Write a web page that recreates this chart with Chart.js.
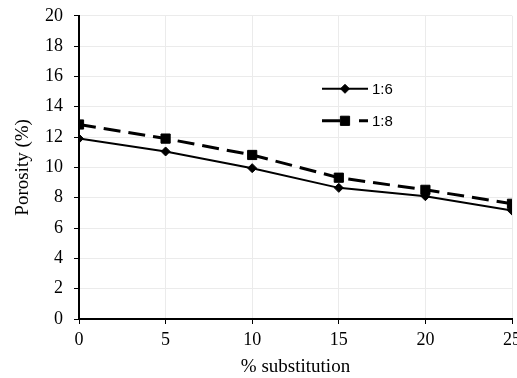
<!DOCTYPE html>
<html>
<head>
<meta charset="utf-8">
<script src="https://cdn.jsdelivr.net/npm/chart.js@4"></script>
<style>
  html, body { margin: 0; padding: 0; background: #fff; overflow: hidden; }
  #wrap { width: 526px; height: 384px; margin-top: -6px; }
</style>
</head>
<body>
<div id="wrap"><canvas id="porosityChart"></canvas></div>
<script>
// data
const substitution = [0, 5, 10, 15, 20, 25];
const ratio16 = [11.9, 11.05, 9.95, 8.65, 8.1, 7.15];
const ratio18 = [12.83, 11.9, 10.82, 9.32, 8.52, 7.6];
const seriesLabels = ['1:6', '1:8'];

const serif = "'Liberation Serif', 'Times New Roman', serif";

// legend drawn inside the plot area, like the original
const insideLegend = {
    id: 'insideLegend',
    afterDraw(chart) {
        const ctx = chart.ctx;
        const area = chart.chartArea;
        const x0 = area.left + 243;
        let y = area.top + 73;
        chart.data.datasets.forEach((ds) => {
            ctx.save();
            ctx.strokeStyle = ds.borderColor;
            ctx.lineWidth = ds.borderWidth;
            ctx.setLineDash(ds.legendDash || []);
            ctx.beginPath();
            ctx.moveTo(x0, y);
            ctx.lineTo(x0 + 46, y);
            ctx.stroke();
            ctx.setLineDash([]);
            ctx.fillStyle = ds.pointBackgroundColor;
            ctx.strokeStyle = ds.pointBorderColor;
            ctx.lineWidth = 1;
            Chart.helpers.drawPoint(ctx, {
                pointStyle: ds.pointStyle,
                radius: ds.pointRadius,
                borderWidth: 1
            }, x0 + 23, y);
            ctx.fillStyle = '#000';
            ctx.font = "15px 'Liberation Sans', Arial, sans-serif";
            ctx.textBaseline = 'middle';
            ctx.fillText(ds.label, x0 + 50, y + 1);
            ctx.restore();
            y += 32;
        });
    }
};

const ctx = document.getElementById('porosityChart').getContext('2d');
new Chart(ctx, {
    type: 'line',
    data: {
        datasets: [
            {
                label: seriesLabels[0],
                data: substitution.map((x, i) => ({ x: x, y: ratio16[i] })),
                borderColor: '#000',
                backgroundColor: '#000',
                pointBackgroundColor: '#000',
                pointBorderColor: '#000',
                borderWidth: 2,
                pointStyle: 'rectRot',
                pointRadius: 4.5,
                pointBorderWidth: 1,
                tension: 0,
                fill: false
            },
            {
                label: seriesLabels[1],
                data: substitution.map((x, i) => ({ x: x, y: ratio18[i] })),
                borderColor: '#000',
                backgroundColor: '#000',
                pointBackgroundColor: '#000',
                pointBorderColor: '#000',
                borderWidth: 3,
                borderDash: [17, 8],
                legendDash: [18, 19],
                pointStyle: 'rect',
                pointRadius: 6.5,
                pointBorderWidth: 1,
                tension: 0,
                fill: false
            }
        ]
    },
    options: {
        responsive: true,
        maintainAspectRatio: false,
        animation: false,
        layout: { padding: { top: 4, right: 0, left: 0, bottom: 0 } },
        plugins: {
            legend: { display: false },
            tooltip: { enabled: false }
        },
        scales: {
            x: {
                type: 'linear',
                min: 0,
                max: 25,
                ticks: {
                    stepSize: 5,
                    color: '#000',
                    padding: 5,
                    font: { family: serif, size: 18 }
                },
                grid: { color: '#ebebeb', tickColor: '#000', tickLength: 5, lineWidth: 1 },
                border: { color: '#000', width: 2 },
                title: {
                    display: true,
                    text: '% substitution',
                    color: '#000',
                    font: { family: serif, size: 19 },
                    padding: { top: 0, bottom: 0 }
                },
                afterFit(scale) { scale.height = 59; }
            },
            y: {
                min: 0,
                max: 20,
                ticks: {
                    stepSize: 2,
                    color: '#000',
                    padding: 11,
                    font: { family: serif, size: 18 }
                },
                grid: { color: '#ebebeb', tickColor: '#000', tickLength: 5, lineWidth: 1 },
                border: { color: '#000', width: 2 },
                title: {
                    display: true,
                    text: 'Porosity (%)',
                    color: '#000',
                    font: { family: serif, size: 19 },
                    padding: { top: 12, bottom: 0 }
                },
                afterFit(scale) { scale.width = 79; }
            }
        }
    },
    plugins: [insideLegend]
});
</script>
</body>
</html>
